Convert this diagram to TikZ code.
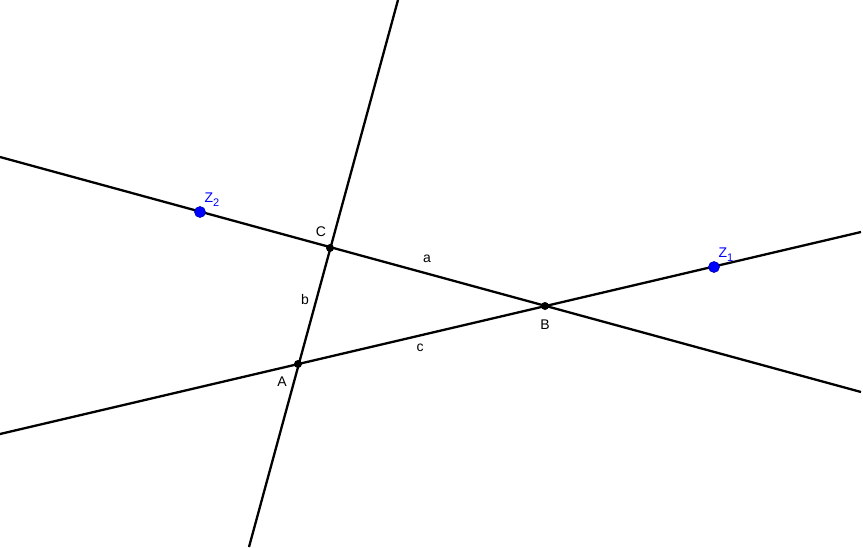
\documentclass[tikz,border=0pt]{standalone}
\usepackage{fontspec}
\setmainfont{Liberation Sans}
\newcommand{\zsub}[1]{\raisebox{-4pt}{\fontsize{11}{11}\selectfont #1}}
\begin{document}
\begin{tikzpicture}[x=1pt,y=-1pt,
  ln/.style={line width=2.3pt,black},
  bpt/.style={circle,fill=black,inner sep=0pt,minimum size=8pt},
  zpt/.style={circle,fill=blue,draw=blue!70!black,line width=0.6pt,inner sep=0pt,minimum size=11pt},
  lbl/.style={inner sep=0pt,font=\fontsize{14}{16}\selectfont},
  zlbl/.style={lbl,text=blue}]
\useasboundingbox (0,0) rectangle (863,547);
% line end coordinates
\coordinate (aL) at (0,157);
\coordinate (aR) at (861,392);
\coordinate (cL) at (0,434);
\coordinate (cR) at (861,232);
\coordinate (bT) at (398,0);
\coordinate (bB) at (249,547);
\draw[ln] (aL) -- (aR);
\draw[ln] (cL) -- (cR);
\draw[ln] (bT) -- (bB);
% points
\node[bpt] (A) at (298,364) {};
\node[bpt] (B) at (545,306) {};
\node[bpt] (C) at (330,248) {};
\node[zpt] (Z1) at (714,267) {};
\node[zpt] (Z2) at (200,212) {};
% labels
\node[zlbl] (lZ2) at (212,200) {Z\zsub{2}};
\node[zlbl] (lZ1) at (726,255) {Z\zsub{1}};
\node[lbl] (lC) at (321,232) {C};
\node[lbl] (lA) at (282,382) {A};
\node[lbl] (lB) at (545,325) {B};
\node[lbl] (la) at (427,259) {a};
\node[lbl] (lb) at (305,299) {b};
\node[lbl] (lc) at (420,348) {c};
\end{tikzpicture}
\end{document}
